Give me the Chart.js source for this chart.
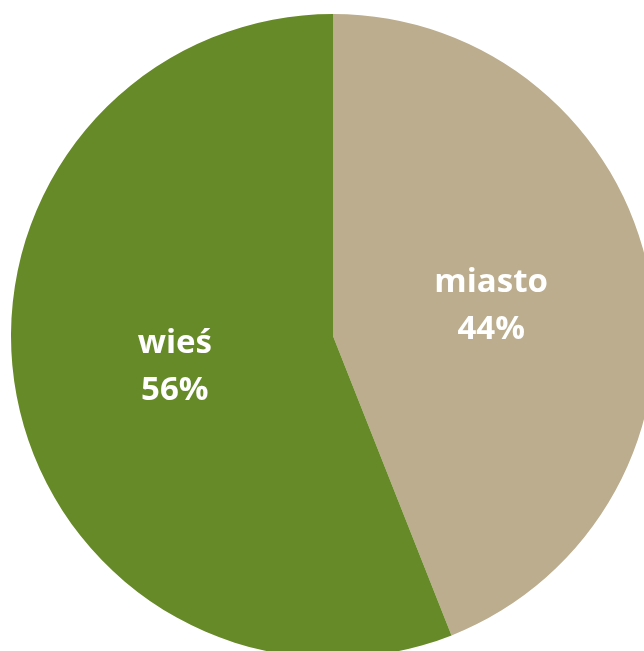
<!DOCTYPE html>
<html>
<head>
<meta charset="utf-8">
<script src="https://cdn.jsdelivr.net/npm/chart.js@4"></script>
<style>
  html, body { margin: 0; padding: 0; background: #fff; overflow: hidden; width: 644px; height: 651px; }
  #wrap { position: absolute; left: 11px; top: 14px; width: 644px; height: 644px; }
</style>
</head>
<body>
<div id="wrap"><canvas id="myChart"></canvas></div>
<script>
const labels = ['miasto', 'wieś'];
const shares = [44, 56];
const colors = ['#BBAD8D', '#678A28'];

// draws "name / xx%" in the middle of each slice
const sliceLabels = {
    id: 'sliceLabels',
    afterDatasetsDraw(chart) {
        const ctx = chart.ctx;
        const meta = chart.getDatasetMeta(0);
        ctx.save();
        ctx.fillStyle = '#fff';
        ctx.font = 'bold 33px "Open Sans"';
        ctx.textAlign = 'center';
        ctx.textBaseline = 'middle';
        meta.data.forEach((arc, i) => {
            const p = arc.tooltipPosition();
            ctx.fillText(labels[i], p.x, p.y - 23);
            ctx.fillText(shares[i] + '%', p.x, p.y + 24);
        });
        ctx.restore();
    }
};

const ctx = document.getElementById('myChart').getContext('2d');
const myChart = new Chart(ctx, {
    type: 'pie',
    data: {
        labels: labels,
        datasets: [{
            data: shares,
            backgroundColor: colors,
            borderWidth: 0,
            hoverOffset: 0
        }]
    },
    options: {
        responsive: true,
        maintainAspectRatio: false,
        animation: false,
        layout: { padding: 0 },
        plugins: {
            legend: { display: false },
            tooltip: { enabled: false }
        }
    },
    plugins: [sliceLabels]
});
</script>
</body>
</html>
